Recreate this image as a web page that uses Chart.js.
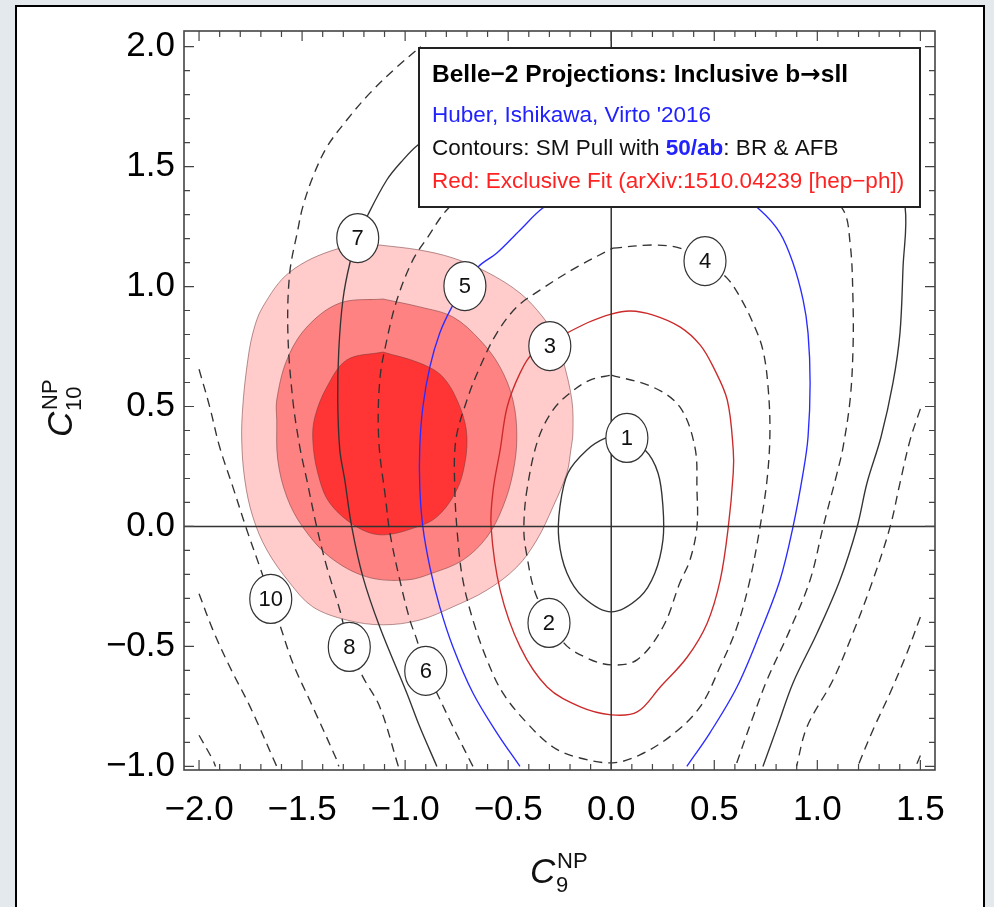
<!DOCTYPE html>
<html>
<head>
<meta charset="utf-8">
<script src="https://cdn.jsdelivr.net/npm/chart.js"></script>
<style>
  html, body { margin: 0; padding: 0; background: #e4e9ee; }
  #wrap { position: absolute; left: 0; top: 0; width: 994px; height: 907px; }
</style>
</head>
<body>
<div id="wrap"><canvas id="chart" width="994" height="907"></canvas></div>
<script>
// valeurs (C9 en x, C10 en y)
const xTicks = [-2.0, -1.5, -1.0, -0.5, 0.0, 0.5, 1.0, 1.5];
const yTicks = [-1.0, -0.5, 0.0, 0.5, 1.0, 1.5, 2.0];

// zones rouges : fit exclusif
const fitOuter = [[-1.123,1.173],[-0.929,1.152],[-0.768,1.119],[-0.603,1.060],[-0.443,0.973],[-0.332,0.873],[-0.268,0.785],[-0.234,0.694],[-0.191,0.527],[-0.186,0.390],[-0.196,0.319],[-0.215,0.223],[-0.283,0.081],[-0.361,-0.056],[-0.458,-0.169],[-0.603,-0.265],[-0.768,-0.335],[-0.929,-0.390],[-1.108,-0.410],[-1.283,-0.390],[-1.448,-0.335],[-1.560,-0.235],[-1.671,-0.098],[-1.739,0.040],[-1.778,0.194],[-1.793,0.360],[-1.788,0.498],[-1.768,0.665],[-1.739,0.806],[-1.691,0.915],[-1.560,1.060],[-1.332,1.156]];
const fitMiddle = [[-1.108,0.948],[-0.929,0.915],[-0.768,0.873],[-0.637,0.777],[-0.540,0.665],[-0.477,0.527],[-0.458,0.373],[-0.477,0.223],[-0.526,0.081],[-0.603,-0.044],[-0.720,-0.140],[-0.866,-0.194],[-0.992,-0.223],[-1.186,-0.210],[-1.366,-0.127],[-1.497,-0.002],[-1.574,0.123],[-1.618,0.277],[-1.623,0.444],[-1.623,0.527],[-1.574,0.694],[-1.477,0.831],[-1.317,0.931]];
const fitInner = [[-1.108,0.727],[-0.929,0.681],[-0.817,0.623],[-0.734,0.498],[-0.700,0.373],[-0.720,0.223],[-0.768,0.123],[-0.846,0.040],[-0.929,0.002],[-1.108,-0.035],[-1.234,-0.002],[-1.366,0.098],[-1.424,0.223],[-1.448,0.360],[-1.438,0.456],[-1.380,0.581],[-1.283,0.694]];

// contours du pull SM (calculés sur -2 <= C9 <= 1.5, -1 <= C10 <= 2)
const pull1 = [[0.042,0.377],[0.164,0.319],[0.227,0.223],[0.251,0.081],[0.251,-0.056],[0.212,-0.194],[0.139,-0.294],[0.0,-0.356],[-0.137,-0.294],[-0.215,-0.194],[-0.254,-0.056],[-0.249,0.081],[-0.210,0.223],[-0.118,0.319],[-0.026,0.369]];
const pull2 = [[0.0,0.631],[0.202,0.581],[0.333,0.498],[0.406,0.331],[0.416,0.152],[0.416,-0.002],[0.382,-0.140],[0.333,-0.235],[0.251,-0.419],[0.125,-0.556],[0.0,-0.577],[-0.118,-0.548],[-0.230,-0.485],[-0.361,-0.294],[-0.414,-0.098],[-0.424,-0.002],[-0.409,0.152],[-0.356,0.360],[-0.283,0.485],[-0.200,0.556],[-0.103,0.610]];
const pull3 = [[-0.215,0.806],[-0.118,0.848],[0.0,0.885],[0.092,0.898],[0.204,0.881],[0.335,0.831],[0.432,0.756],[0.495,0.665],[0.563,0.527],[0.592,0.319],[0.592,0.223],[0.568,-0.002],[0.529,-0.223],[0.466,-0.402],[0.369,-0.544],[0.238,-0.669],[0.126,-0.773],[0.0,-0.785],[-0.150,-0.752],[-0.311,-0.669],[-0.442,-0.502],[-0.539,-0.265],[-0.583,-0.002],[-0.573,0.152],[-0.539,0.319],[-0.505,0.498],[-0.442,0.640],[-0.379,0.723]];
const pull4 = [[0.008,1.160],[0.202,1.173],[0.333,1.160],[0.455,1.106],[0.562,1.035],[0.625,0.956],[0.688,0.848],[0.736,0.735],[0.761,0.581],[0.770,0.390],[0.756,0.194],[0.722,-0.002],[0.673,-0.223],[0.610,-0.419],[0.528,-0.585],[0.431,-0.752],[0.295,-0.869],[0.139,-0.952],[0.008,-0.985],[-0.152,-0.965],[-0.283,-0.919],[-0.409,-0.819],[-0.526,-0.694],[-0.603,-0.556],[-0.671,-0.390],[-0.720,-0.223],[-0.744,-0.056],[-0.759,0.152],[-0.754,0.360],[-0.700,0.527],[-0.637,0.665],[-0.555,0.806],[-0.458,0.915],[-0.346,0.985],[-0.167,1.081]];
const pull5 = [[-0.443,-1.0],[-0.555,-0.860],[-0.671,-0.694],[-0.768,-0.502],[-0.832,-0.335],[-0.880,-0.169],[-0.914,-0.002],[-0.929,0.165],[-0.929,0.331],[-0.914,0.498],[-0.880,0.665],[-0.832,0.806],[-0.773,0.915],[-0.710,1.002],[-0.647,1.081],[-0.555,1.140],[-0.443,1.235],[-0.332,1.327],[-0.152,1.423],[0.188,1.494],[0.528,1.444],[0.722,1.319],[0.819,1.223],[0.882,1.098],[0.931,0.944],[0.955,0.806],[0.965,0.598],[0.955,0.373],[0.931,0.223],[0.882,-0.002],[0.819,-0.223],[0.722,-0.444],[0.610,-0.669],[0.479,-0.860],[0.367,-1.0]];
const pull6 = [[-0.671,-1.0],[-0.768,-0.835],[-0.846,-0.694],[-0.900,-0.602],[-0.943,-0.473],[-0.977,-0.390],[-1.026,-0.223],[-1.074,-0.027],[-1.094,0.110],[-1.128,0.360],[-1.123,0.610],[-1.089,0.777],[-1.040,0.944],[-0.963,1.110],[-0.890,1.206],[-0.798,1.319],[-0.540,1.527],[-0.152,1.673],[0.236,1.702],[0.625,1.631],[0.916,1.485],[1.120,1.327],[1.159,1.181],[1.173,0.944],[1.173,0.735],[1.159,0.527],[1.125,0.331],[1.096,0.223],[1.028,-0.002],[0.965,-0.223],[0.867,-0.431],[0.756,-0.640],[0.683,-0.806],[0.603,-1.0]];
const pull7 = [[-0.846,-1.0],[-0.929,-0.835],[-0.992,-0.694],[-1.123,-0.419],[-1.205,-0.210],[-1.259,-0.002],[-1.293,0.194],[-1.317,0.319],[-1.327,0.527],[-1.322,0.735],[-1.302,0.944],[-1.268,1.098],[-1.230,1.202],[-1.181,1.298],[-1.089,1.444],[-1.011,1.527],[-0.938,1.590],[-0.637,1.777],[-0.249,1.902],[0.188,1.944],[0.675,1.902],[1.110,1.735],[1.353,1.527],[1.426,1.331],[1.416,1.081],[1.401,0.806],[1.367,0.598],[1.309,0.373],[1.241,0.181],[1.193,-0.002],[1.110,-0.223],[0.999,-0.444],[0.882,-0.652],[0.809,-0.827],[0.736,-1.0]];
const pull8Left = [[-1.033,-1.0],[-1.123,-0.752],[-1.205,-0.627],[-1.271,-0.502],[-1.317,-0.348],[-1.380,-0.169],[-1.429,-0.002],[-1.477,0.194],[-1.511,0.331],[-1.545,0.527],[-1.569,0.806],[-1.560,1.056],[-1.521,1.235],[-1.497,1.331],[-1.448,1.456],[-1.380,1.581],[-1.283,1.694],[-1.171,1.806],[-1.040,1.915],[-0.925,2.0]];
const pull8Right = [[1.5,0.49],[1.450,0.360],[1.401,0.181],[1.353,-0.002],[1.270,-0.223],[1.173,-0.444],[1.076,-0.640],[0.950,-0.835],[0.899,-1.0]];
const pull10Left = [[-2.0,0.655],[-1.948,0.498],[-1.900,0.331],[-1.836,0.165],[-1.768,-0.015],[-1.705,-0.169],[-1.652,-0.302],[-1.608,-0.410],[-1.545,-0.569],[-1.448,-0.752],[-1.332,-0.973],[-1.322,-1.0]];
const pull10Right = [[1.5,-0.377],[1.435,-0.527],[1.353,-0.694],[1.270,-0.848],[1.196,-1.0]];
const pull12Left = [[-2.0,-0.28],[-1.933,-0.431],[-1.851,-0.585],[-1.752,-0.752],[-1.623,-1.0]];
const pull12Right = [[1.5,-0.955],[1.478,-1.0]];
const pull14Left = [[-2.0,-0.87],[-1.933,-0.973],[-1.92,-1.0]];

// étiquettes des contours
const labelText = ['1', '2', '3', '4', '5', '6', '7', '8', '10'];
const labelX = [0.076, -0.302, -0.298, 0.455, -0.710, -0.900, -1.230, -1.271, -1.652];
const labelY = [0.369, -0.402, 0.752, 1.106, 1.002, -0.602, 1.202, -0.502, -0.302];

const FONT = '"Liberation Sans", Arial, Helvetica, sans-serif';
const pts = a => a.map(p => ({ x: p[0], y: p[1] }));
const closed = a => pts(a.concat([a[0]]));
const fmt = v => (v < 0 ? '\u2212' : '') + Math.abs(v).toFixed(1);

function area(data, color, order) {
  return { data, fill: 'shape', backgroundColor: color, borderColor: 'rgba(120,60,60,0.55)',
           borderWidth: 1, tension: 0.35, pointRadius: 0, order };
}
function contour(data, color, dashed) {
  return { data, fill: false, borderColor: color, borderWidth: 1.35, borderDash: dashed ? [9, 6] : [],
           tension: 0.35, pointRadius: 0, order: 1 };
}

const BLACK = '#333';
const datasets = [
  area(closed(fitOuter), 'rgb(255,203,203)', 12),
  area(closed(fitMiddle), 'rgb(255,130,130)', 11),
  area(closed(fitInner), 'rgb(255,52,52)', 10),
  contour(closed(pull1), BLACK, false),
  contour(closed(pull2), BLACK, true),
  contour(closed(pull3), '#cc2a2a', false),
  contour(closed(pull4), BLACK, true),
  contour(pts(pull5), '#2b2bff', false),
  contour(pts(pull6), BLACK, true),
  contour(pts(pull7), BLACK, false),
  contour(pts(pull8Left), BLACK, true),
  contour(pts(pull8Right), BLACK, true),
  contour(pts(pull10Left), BLACK, true),
  contour(pts(pull10Right), BLACK, true),
  contour(pts(pull12Left), BLACK, true),
  contour(pts(pull12Right), BLACK, true),
  contour(pts(pull14Left), BLACK, true)
];

// fond gris + panneau blanc
const panelPlugin = {
  id: 'panel',
  beforeDraw(chart) {
    const ctx = chart.ctx;
    ctx.save();
    ctx.fillStyle = '#e4e9ee';
    ctx.fillRect(0, 0, chart.width, chart.height);
    ctx.fillStyle = '#fff';
    ctx.fillRect(16, 6, 968, 920);
    ctx.strokeStyle = '#000';
    ctx.lineWidth = 2;
    ctx.strokeRect(16, 6, 968, 920);
    ctx.restore();
  }
};

// cadre, graduations internes, axes x=0 / y=0, étiquettes, légende
const framePlugin = {
  id: 'frame',
  afterDatasetsDraw(chart) {
    const ctx = chart.ctx, a = chart.chartArea;
    const xs = chart.scales.x, ys = chart.scales.y;
    ctx.save();
    // axes passant par zéro
    ctx.strokeStyle = '#333';
    ctx.lineWidth = 1.5;
    ctx.beginPath();
    ctx.moveTo(a.left, ys.getPixelForValue(0)); ctx.lineTo(a.right, ys.getPixelForValue(0));
    ctx.moveTo(xs.getPixelForValue(0), a.top); ctx.lineTo(xs.getPixelForValue(0), a.bottom);
    ctx.stroke();

    // étiquettes de contours
    labelText.forEach((t, i) => {
      const px = xs.getPixelForValue(labelX[i]), py = ys.getPixelForValue(labelY[i]);
      ctx.beginPath();
      ctx.ellipse(px, py, 21, 24.5, 0, 0, Math.PI * 2);
      ctx.fillStyle = '#fff';
      ctx.fill();
      ctx.strokeStyle = '#333';
      ctx.lineWidth = 1.2;
      ctx.stroke();
      ctx.fillStyle = '#111';
      ctx.font = '22px ' + FONT;
      ctx.textAlign = 'center';
      ctx.textBaseline = 'middle';
      ctx.fillText(t, px, py + 1);
    });

    // cadre
    ctx.strokeStyle = '#444';
    ctx.lineWidth = 1.6;
    ctx.strokeRect(a.left, a.top, a.right - a.left, a.bottom - a.top);
    ctx.lineWidth = 1.2;
    ctx.beginPath();
    for (let i = -20; i <= 15; i++) {
      const v = i / 10, px = xs.getPixelForValue(v);
      if (px < a.left || px > a.right) continue;
      const len = (i % 5 === 0) ? 10 : 6;
      ctx.moveTo(px, a.bottom); ctx.lineTo(px, a.bottom - len);
      ctx.moveTo(px, a.top); ctx.lineTo(px, a.top + len);
    }
    for (let i = -10; i <= 20; i++) {
      const v = i / 10, py = ys.getPixelForValue(v);
      if (py < a.top || py > a.bottom) continue;
      const len = (i % 5 === 0) ? 10 : 6;
      ctx.moveTo(a.left, py); ctx.lineTo(a.left + len, py);
      ctx.moveTo(a.right, py); ctx.lineTo(a.right - len, py);
    }
    ctx.stroke();
    ctx.restore();
  },
  afterDraw(chart) {
    const ctx = chart.ctx;
    ctx.save();
    // légende
    ctx.fillStyle = '#fff';
    ctx.fillRect(419, 48, 501, 159);
    ctx.strokeStyle = '#222';
    ctx.lineWidth = 2;
    ctx.strokeRect(419, 48, 501, 159);
    ctx.textAlign = 'left';
    ctx.textBaseline = 'alphabetic';
    const lx = 432;
    let x = lx;
    ctx.fillStyle = '#000';
    ctx.font = 'bold 24.5px ' + FONT;
    ctx.fillText('Belle\u22122 Projections: Inclusive b', x, 82);
    x += ctx.measureText('Belle\u22122 Projections: Inclusive b').width;
    ctx.font = 'bold 24.5px "DejaVu Sans", sans-serif';
    ctx.fillText('\u2192', x, 82);
    x += ctx.measureText('\u2192').width;
    ctx.font = 'bold 24.5px ' + FONT;
    ctx.fillText('sll', x, 82);

    ctx.font = '22.5px ' + FONT;
    ctx.fillStyle = '#2222ff';
    ctx.fillText("Huber, Ishikawa, Virto '2016", lx, 122);
    x = lx;
    ctx.fillStyle = '#111';
    ctx.fillText('Contours: SM Pull with ', x, 155);
    x += ctx.measureText('Contours: SM Pull with ').width;
    ctx.font = 'bold 22.5px ' + FONT;
    ctx.fillStyle = '#2222ff';
    ctx.fillText('50/ab', x, 155);
    x += ctx.measureText('50/ab').width;
    ctx.font = '22.5px ' + FONT;
    ctx.fillStyle = '#111';
    ctx.fillText(': BR & AFB', x, 155);
    ctx.fillStyle = '#ff2222';
    ctx.fillText('Red: Exclusive Fit (arXiv:1510.04239 [hep\u2212ph])', lx, 188);

    // titres d'axes
    ctx.fillStyle = '#111';
    ctx.font = 'italic 35px ' + FONT;
    ctx.fillText('C', 530, 883);
    ctx.font = '22px ' + FONT;
    ctx.fillText('NP', 557, 868);
    ctx.fillText('9', 556, 892);

    ctx.translate(72, 437);
    ctx.rotate(-Math.PI / 2);
    ctx.font = 'italic 35px ' + FONT;
    ctx.fillText('C', 0, 0);
    ctx.font = '22px ' + FONT;
    ctx.fillText('NP', 27, -15);
    ctx.fillText('10', 26, 9);
    ctx.restore();
  }
};

new Chart(document.getElementById('chart'), {
  type: 'line',
  data: { datasets },
  options: {
    responsive: false,
    animation: false,
    devicePixelRatio: 1,
    layout: { padding: { left: 0, top: 31, right: 59, bottom: 0 } },
    plugins: { legend: { display: false }, tooltip: { enabled: false } },
    elements: { point: { radius: 0 } },
    events: [],
    scales: {
      x: {
        type: 'linear', min: -2.073, max: 1.571,
        afterBuildTicks: s => { s.ticks = xTicks.map(v => ({ value: v })); },
        afterFit: s => { s.height = 137; },
        grid: { display: false, drawTicks: false },
        border: { display: false },
        ticks: { callback: v => fmt(v), font: { size: 35, family: FONT }, color: '#000',
                 padding: 19, maxRotation: 0, autoSkip: false }
      },
      y: {
        type: 'linear', min: -1.015, max: 2.065,
        afterBuildTicks: s => { s.ticks = yTicks.map(v => ({ value: v })); },
        afterFit: s => { s.width = 184; },
        grid: { display: false, drawTicks: false },
        border: { display: false },
        ticks: { callback: v => fmt(v), font: { size: 35, family: FONT }, color: '#000',
                 padding: 9, autoSkip: false }
      }
    }
  },
  plugins: [panelPlugin, framePlugin]
});
</script>
</body>
</html>
